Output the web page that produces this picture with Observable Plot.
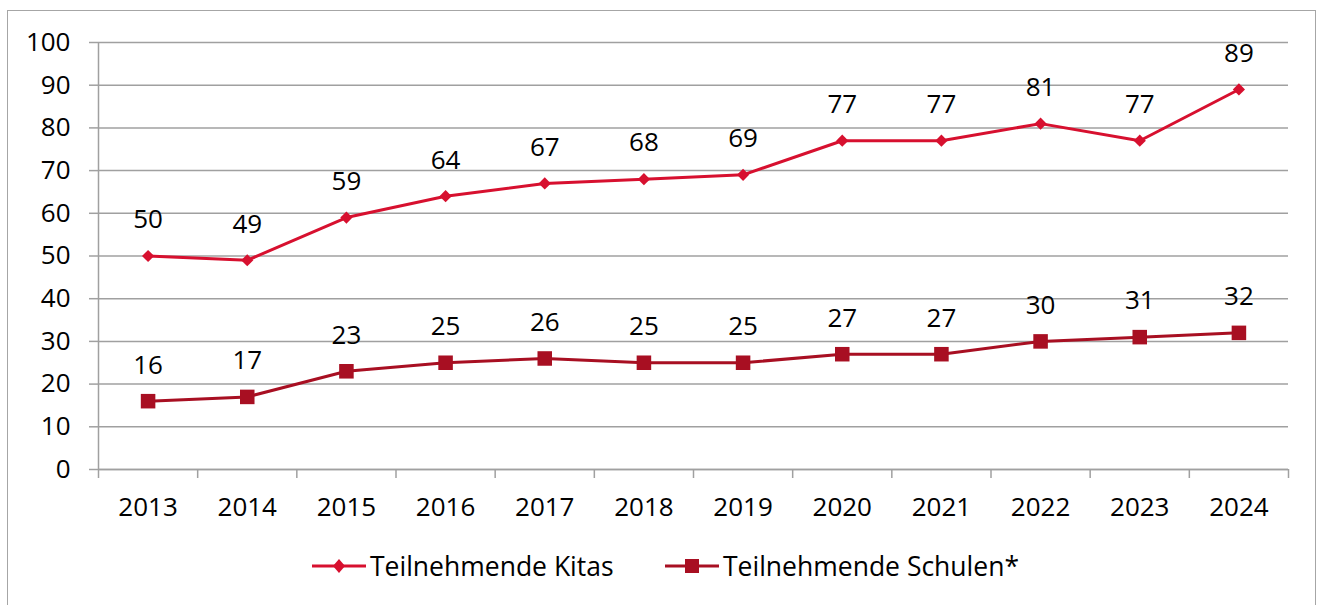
<!DOCTYPE html>
<html>
<head>
<meta charset="utf-8">
<script src="https://cdn.jsdelivr.net/npm/d3@7"></script>
<script src="https://cdn.jsdelivr.net/npm/@observablehq/plot@0.6"></script>
<style>
  html, body { margin: 0; padding: 0; background: #fff; }
  body { width: 1320px; height: 605px; overflow: hidden; position: relative; font-family: "Open Sans", "Noto Sans", sans-serif; }
  #frame { position: absolute; left: 7px; top: 10px; width: 1309px; height: 620px; border: 1.5px solid #a6a6a6; box-sizing: border-box; }
  #chart { position: absolute; left: 0; top: 0; }
  #legend { position: absolute; left: 0; top: 546px; width: 1320px; height: 40px; }
  .item { position: absolute; top: 0; display: flex; align-items: center; height: 40px; font-size: 26.5px; color: #000; }
  .item svg { margin-right: 4px; }
</style>
</head>
<body>
<div id="frame"></div>
<div id="chart"></div>
<div id="legend"></div>
<script>
const years = [2013, 2014, 2015, 2016, 2017, 2018, 2019, 2020, 2021, 2022, 2023, 2024];
const kitas = [50, 49, 59, 64, 67, 68, 69, 77, 77, 81, 77, 89];
const schulen = [16, 17, 23, 25, 26, 25, 25, 27, 27, 30, 31, 32];
const seriesNames = ["Teilnehmende Kitas", "Teilnehmende Schulen*"];
const seriesColors = ["#d7102f", "#a80f22"];
const yTicks = [0, 10, 20, 30, 40, 50, 60, 70, 80, 90, 100];

const data = years.flatMap((yr, i) => [
  {year: yr, value: kitas[i], series: seriesNames[0]},
  {year: yr, value: schulen[i], series: seriesNames[1]}
]);
const boundaries = years.map(y => y - 0.5).concat([years[years.length - 1] + 0.5]);
const grid = "#a0a0a0";

const chart = Plot.plot({
  width: 1320,
  height: 530,
  marginTop: 42,
  marginBottom: 61,
  marginLeft: 98,
  marginRight: 32,
  style: {fontFamily: "'Open Sans', 'Noto Sans', sans-serif", fontSize: "26px", color: "#000", background: "transparent"},
  x: {domain: [boundaries[0], boundaries[boundaries.length - 1]]},
  y: {domain: [0, 100]},
  color: {domain: seriesNames, range: seriesColors},
  marks: [
    Plot.gridY(yTicks, {stroke: grid, strokeOpacity: 1, strokeWidth: 1.5}),
    Plot.axisY(yTicks, {tickSize: 9, tickPadding: 19, stroke: grid, strokeWidth: 1.5, fill: "#000", fontSize: 26, label: null, tickFormat: d => String(d)}),
    Plot.axisX(boundaries, {tickSize: 9, stroke: grid, strokeWidth: 1.5, tickFormat: () => "", label: null}),
    Plot.axisX(years, {tickSize: 0, tickPadding: 28, fill: "#000", fontSize: 26, label: null, tickFormat: d => String(d)}),
    Plot.ruleX([boundaries[0]], {y1: 0, y2: 100, stroke: grid, strokeWidth: 1.5}),
    Plot.ruleY([0], {stroke: grid, strokeWidth: 1.5}),
    Plot.line(data, {x: "year", y: "value", z: "series", stroke: "series", strokeWidth: 3}),
    Plot.dot(data.filter(d => d.series === seriesNames[0]), {x: "year", y: "value", symbol: "diamond2", r: 5.5, fill: seriesColors[0], stroke: "none"}),
    Plot.dot(data.filter(d => d.series === seriesNames[1]), {x: "year", y: "value", symbol: "square", r: 8.2, fill: seriesColors[1], stroke: "none"}),
    Plot.text(data, {x: "year", y: "value", text: d => String(d.value), dy: -36, fill: "#000", fontSize: 26, textAnchor: "middle", lineAnchor: "middle"})
  ]
});
document.getElementById("chart").appendChild(chart);

// legend
const legend = document.getElementById("legend");
const legendLeft = [312, 665];
seriesNames.forEach((name, i) => {
  const item = document.createElement("div");
  item.className = "item";
  item.style.left = legendLeft[i] + "px";
  const sym = i === 0
    ? `<polygon points="27,13 33,20 27,27 21,20" fill="${seriesColors[i]}"/>`
    : `<rect x="20" y="13" width="14" height="14" fill="${seriesColors[i]}"/>`;
  item.innerHTML = `<svg width="54" height="40"><line x1="0" x2="54" y1="20" y2="20" stroke="${seriesColors[i]}" stroke-width="3"/>${sym}</svg><span>${name}</span>`;
  legend.appendChild(item);
});
</script>
</body>
</html>
